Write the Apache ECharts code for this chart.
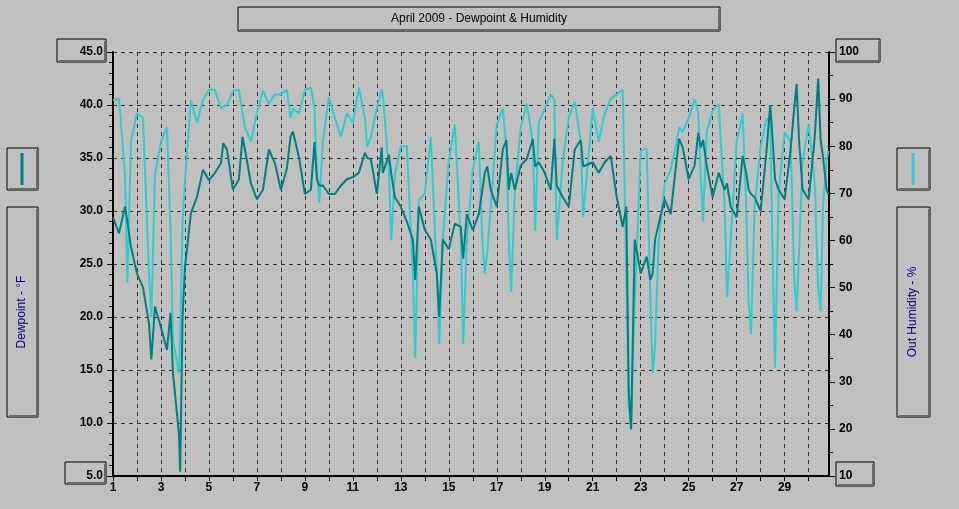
<!DOCTYPE html>
<html><head><meta charset="utf-8">
<script src="https://cdn.jsdelivr.net/npm/echarts@6/dist/echarts.min.js"></script>
<style>html,body{margin:0;padding:0;background:#c0c0c0}#c{width:959px;height:509px}</style>
</head><body><div id="c"></div>
<script>
const title = 'April 2009 - Dewpoint & Humidity';
const dewLabel = 'Dewpoint - °F';
const humLabel = 'Out Humidity - %';
const dayTicks = [1,3,5,7,9,11,13,15,17,19,21,23,25,27,29];
const times = [1.0,1.25,1.5,1.6,1.75,2.0,2.25,2.5,2.6,2.75,3.0,3.25,3.4,3.5,3.75,3.8,3.9,4.0,4.25,4.5,4.75,5.0,5.25,5.5,5.6,5.75,6.0,6.25,6.4,6.5,6.75,7.0,7.25,7.5,7.75,8.0,8.25,8.4,8.5,8.75,9.0,9.25,9.4,9.5,9.6,9.75,10.0,10.25,10.5,10.75,
11.0,11.25,11.5,11.6,11.75,12.0,12.2,12.25,12.5,12.6,12.75,13.0,13.25,13.5,13.6,13.75,14.0,14.25,14.5,14.6,14.75,15.0,15.25,15.5,15.6,15.75,16.0,16.25,16.4,16.5,16.6,16.75,17.0,17.25,17.4,17.5,17.6,17.75,18.0,18.25,18.5,18.6,18.75,19.0,19.25,19.4,19.5,19.75,20.0,20.25,20.5,20.6,
21.0,21.25,21.5,21.75,22.0,22.25,22.4,22.5,22.6,22.75,23.0,23.25,23.4,23.5,23.6,23.75,24.0,24.25,24.5,24.6,24.75,25.0,25.25,25.4,25.5,25.6,25.75,26.0,26.25,26.5,26.6,26.75,27.0,27.25,27.4,27.5,27.6,27.75,28.0,28.25,28.4,28.5,28.6,28.75,29.0,29.25,29.4,29.5,29.6,29.75,30.0,30.25,30.4,30.5,30.6,30.75,30.83];
const dewpoint = [29.4,27.9,30.4,29.0,26.6,24.1,22.8,19.4,16.0,21.0,19.0,16.9,20.4,14.7,9.0,5.4,20.0,24.7,29.8,31.3,33.9,32.9,33.6,34.5,36.4,35.8,32.0,33.0,37.0,35.8,32.6,31.1,32.0,35.8,34.5,32.0,34.0,37.0,37.5,35.1,31.6,32.0,36.5,33.0,32.4,32.4,31.6,31.6,32.4,33.0,
33.2,33.6,35.5,35.0,34.9,31.6,36.0,33.6,35.3,33.5,31.3,30.4,29.0,27.3,23.5,30.4,28.2,27.3,24.1,20.0,27.3,26.4,28.8,28.5,25.5,29.7,28.2,29.7,32.0,33.6,34.2,32.0,30.4,35.8,36.7,32.0,33.6,32.0,34.3,34.9,36.8,34.2,34.6,33.6,32.0,36.8,32.4,31.3,30.4,35.8,36.7,34.2,
34.6,33.6,34.6,35.2,31.3,28.5,30.4,13.1,9.4,27.3,24.1,25.7,23.5,24.1,27.3,28.8,31.1,29.7,34.9,36.8,36.0,33.0,34.3,37.4,36.0,36.7,34.3,31.3,33.6,32.0,32.6,30.4,29.4,35.2,33.6,32.0,31.6,31.3,30.0,35.8,40.0,36.8,33.0,32.0,31.1,35.8,39.7,42.0,36.7,32.0,31.1,36.8,42.5,36.7,35.1,32.0,31.6];
const humidity = [89.8,90.0,74.0,51.0,81.0,87.0,86.0,53.0,43.7,74.0,81.0,84.0,62.0,38.9,31.8,40.0,63.7,72.8,89.8,85.0,89.8,92.0,92.0,88.0,88.5,88.7,91.7,92.0,87.0,84.0,81.0,87.0,91.8,89.0,91.0,91.0,92.0,86.0,88.0,87.0,92.0,92.4,88.0,75.0,68.0,81.0,90.4,86.0,82.0,87.0,
84.9,92.4,86.0,79.9,82.0,88.0,92.0,91.0,75.0,60.0,74.0,80.0,80.0,53.0,35.0,68.5,70.0,82.0,53.0,38.0,60.0,77.0,84.6,60.0,38.0,60.0,75.0,81.0,60.0,53.0,57.3,67.2,84.6,88.0,79.9,60.0,49.0,70.0,84.0,89.0,81.0,62.0,85.0,88.0,91.0,90.0,60.0,77.0,86.0,89.5,81.0,65.0,
88.0,81.0,87.0,90.0,91.0,92.0,53.0,24.6,20.5,47.0,79.0,79.5,48.0,31.8,38.0,60.0,72.0,75.0,81.0,84.0,83.0,86.0,90.0,87.0,74.0,64.0,83.0,87.6,89.0,67.2,48.0,60.0,81.0,87.0,67.0,47.0,40.0,67.2,80.0,86.0,85.0,57.0,33.0,70.0,83.0,81.0,52.0,45.0,57.3,77.0,84.6,73.0,50.0,45.0,67.2,77.0,79.0];

const dewData = times.map((t,i)=>[t,dewpoint[i]]);
const humData = times.map((t,i)=>[t,humidity[i]]);
const F = 'Liberation Sans, Arial, sans-serif';
const lbl = {color:'#000',fontFamily:F,fontSize:12,fontWeight:'bold'};
function box(x,y,w,h){return {type:'group',children:[
  {type:'rect',shape:{x:x,y:y,width:w,height:h},style:{fill:'none',stroke:'#000',lineWidth:1}},
  {type:'polyline',shape:{points:[[x+w-1,y+2],[x+w-1,y+h-1],[x+2,y+h-1]]},style:{stroke:'#6a6a6a',lineWidth:2,fill:'none'}}]};}
const chart = echarts.init(document.getElementById('c'),null,{renderer:'canvas'});
chart.setOption({
  backgroundColor:'#c0c0c0',animation:false,
  grid:{left:113,right:130,top:52,bottom:33},
  xAxis:{type:'value',min:1,max:30.85,interval:1,
    axisLine:{onZero:false,lineStyle:{color:'#000',width:2}},
    axisTick:{show:true,length:5,lineStyle:{color:'#000'}},
    axisLabel:Object.assign({},lbl,{margin:6,formatter:v=>dayTicks.includes(v)?String(v):'',showMaxLabel:false}),
    splitLine:{show:true,lineStyle:{color:'#333',type:[4,4],width:1}}},
  yAxis:[{type:'value',min:5,max:45,interval:5,
    axisLine:{show:true,lineStyle:{color:'#000',width:2}},
    axisTick:{show:true,length:6,lineStyle:{color:'#000'}},
    minorTick:{show:true,splitNumber:5,length:4,lineStyle:{color:'#000'}},
    axisLabel:Object.assign({},lbl,{margin:10,formatter:v=>v.toFixed(1)}),
    splitLine:{show:true,lineStyle:{color:'#333',type:[4,4],width:1}}},
   {type:'value',min:10,max:100,interval:10,position:'right',
    axisLine:{show:true,lineStyle:{color:'#000',width:2}},
    axisTick:{show:true,length:6,lineStyle:{color:'#000'}},
    minorTick:{show:true,splitNumber:2,length:4,lineStyle:{color:'#000'}},
    axisLabel:Object.assign({},lbl,{margin:10}),
    splitLine:{show:false}}],
  series:[
   {name:'Out Humidity',type:'line',yAxisIndex:1,data:humData,symbol:'none',lineStyle:{color:'#33cccc',width:2},z:2},
   {name:'Dewpoint',type:'line',yAxisIndex:0,data:dewData,symbol:'none',lineStyle:{color:'#008080',width:2},z:3}],
  graphic:[
    box(238,7,482,24),
    {type:'text',x:479,y:19,style:{text:title,fontFamily:F,fontSize:12,fill:'#000',align:'center',verticalAlign:'middle'}},
    box(57,39,49,23), box(65,462,41,22), box(836,39,44,23), box(836,462,38,24),
    box(7,148,31,42),
    {type:'line',shape:{x1:22,y1:153,x2:22,y2:185},style:{stroke:'#008080',lineWidth:3}},
    box(7,207,31,210),
    {type:'text',x:22,y:312,rotation:Math.PI/2,style:{text:dewLabel,fontFamily:F,fontSize:12,fill:'#000080',align:'center',verticalAlign:'middle'}},
    box(897,148,33,42),
    {type:'line',shape:{x1:913,y1:153,x2:913,y2:185},style:{stroke:'#33cccc',lineWidth:3}},
    box(897,207,33,210),
    {type:'text',x:913,y:312,rotation:Math.PI/2,style:{text:humLabel,fontFamily:F,fontSize:12,fill:'#000080',align:'center',verticalAlign:'middle'}}
  ]
});
</script></body></html>
